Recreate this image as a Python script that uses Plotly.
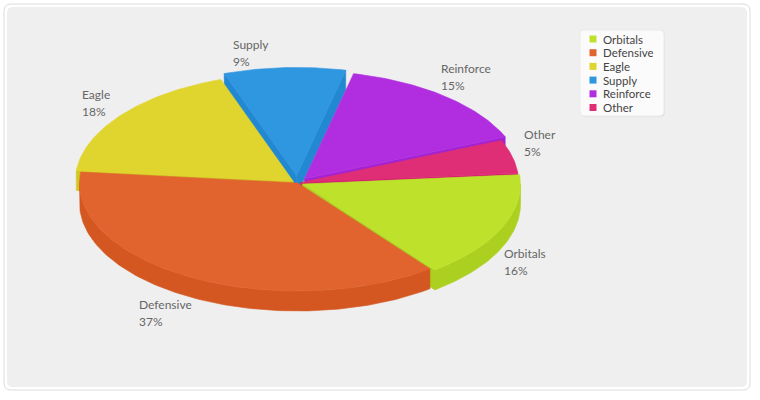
import numpy as np
import plotly.graph_objects as go

# ---- data ----
categories = ["Orbitals", "Defensive", "Eagle", "Supply", "Reinforce", "Other"]
values = [16, 37, 18, 9, 15, 5]

# ---- style ----
top_colors = ["#BEE22C", "#E1642F", "#E0D52E", "#2F96E0", "#B12EE0", "#E02E76"]
side_colors = ["#ACD020", "#D45722", "#D2C722", "#2388D2", "#A223D2", "#D0226A"]
pulls = [0.025, 0.0, 0.025, 0.07, 0.05, 0.015]
# label placement tweaks (pixels): left edge / vertical centre of the two-line label
label_nudge = [(-39, 20), (-31, 3), (-8, 10), (-52, 16), (-29, 6), (-34, -5)]

W, H = 760, 400
CX, CY = 297.5, 183
RX, RY = 218, 108
DEPTH = 20
START = -5.0
FONT = "Lato"

total = float(sum(values))


def pt(theta, c, h=0.0):
    t = np.radians(theta)
    return c[0] + RX * np.cos(t), c[1] + RY * np.sin(t) + h


def arc(t1, t2, c, h=0.0, n=None):
    if n is None:
        n = max(2, int(abs(t2 - t1)) + 2)
    ts = np.linspace(t1, t2, n)
    xs, ys = pt(ts, c, h)
    return list(xs), list(ys)


fig = go.Figure()

slices = []
a = START
for i, v in enumerate(values):
    span = v / total * 360.0
    t1, t2 = a, a + span
    mid = (t1 + t2) / 2
    mr = np.radians(mid)
    c = (CX + pulls[i] * RX * np.cos(mr), CY + pulls[i] * RY * np.sin(mr))
    slices.append(dict(i=i, t1=t1, t2=t2, mid=mid, c=c))
    a = t2


def poly(xs, ys, color):
    fig.add_trace(go.Scatter(x=xs, y=ys, mode="lines", fill="toself",
                             fillcolor=color, line=dict(width=0.6, color=color),
                             hoverinfo="skip", showlegend=False))


order = sorted(slices, key=lambda s: s["c"][1] + 0.5 * RY * np.sin(np.radians(s["mid"])))
for s in order:
    i, t1, t2, c = s["i"], s["t1"], s["t2"], s["c"]
    sc = side_colors[i]
    # radial faces facing the viewer
    for t, vis in ((t1, np.cos(np.radians(t1)) < 0), (t2, np.cos(np.radians(t2)) > 0)):
        if vis:
            px, py = pt(t, c)
            poly([c[0], px, px, c[0], c[0]], [c[1], py, py + DEPTH, c[1] + DEPTH, c[1]], sc)
    # outer wall (front half)
    for k in (-1, 0, 1):
        lo, hi = max(t1, 360 * k), min(t2, 360 * k + 180)
        if hi > lo:
            xt, yt = arc(lo, hi, c)
            xb, yb = arc(hi, lo, c, DEPTH)
            poly(xt + xb + [xt[0]], yt + yb + [yt[0]], sc)

for s in slices:
    i, t1, t2, c = s["i"], s["t1"], s["t2"], s["c"]
    xs, ys = arc(t1, t2, c)
    poly([c[0]] + xs + [c[0]], [c[1]] + ys + [c[1]], top_colors[i])

# slice labels
annotations = []
for s in slices:
    i = s["i"]
    mr = np.radians(s["mid"])
    lx = CX + RX * 1.22 * np.cos(mr) + label_nudge[i][0]
    ly = CY + RY * 1.35 * np.sin(mr) + label_nudge[i][1]
    pct = f"{values[i] / total * 100:.0f}%"
    for txt, dy in ((categories[i], -8.5), (pct, 8.5)):
        annotations.append(dict(x=lx, y=ly + dy, text=txt, showarrow=False,
                                xanchor="left", yanchor="middle", height=15,
                                font=dict(family=FONT, size=12, color="#666666")))

# legend
LX, LY0, LDY = 593, 39, 13.7
fig.add_trace(go.Scatter(
    x=[LX] * len(categories), y=[LY0 + LDY * k for k in range(len(categories))],
    mode="markers", marker=dict(symbol="square", size=7, color=top_colors,
                                line=dict(width=0)),
    hoverinfo="skip", showlegend=False))
for k, name in enumerate(categories):
    annotations.append(dict(x=601, y=LY0 + LDY * k, text=name, showarrow=False,
                            xanchor="left", yanchor="middle", height=13,
                            font=dict(family=FONT, size=11.5, color="#444444")))


def rrect(x0, y0, x1, y1, r):
    return (f"M{x0+r},{y0} L{x1-r},{y0} Q{x1},{y0} {x1},{y0+r} L{x1},{y1-r} "
            f"Q{x1},{y1} {x1-r},{y1} L{x0+r},{y1} Q{x0},{y1} {x0},{y1-r} "
            f"L{x0},{y0+r} Q{x0},{y0} {x0+r},{y0} Z")


shapes = [
    dict(type="path", path=rrect(4, 4, 750, 390, 7), fillcolor="#FFFFFF",
         line=dict(color="#DCDCDC", width=1), layer="below", xref="x", yref="y"),
    dict(type="path", path=rrect(7, 7, 747, 387, 6), fillcolor="#EFEFEF",
         line=dict(width=0), layer="below", xref="x", yref="y"),
    dict(type="path", path=rrect(581, 31, 665, 117, 5), fillcolor="#E2E2E2",
         line=dict(width=0), layer="below", xref="x", yref="y"),
    dict(type="path", path=rrect(580, 30, 664, 116, 5), fillcolor="#FBFBFB",
         line=dict(color="#EBEBEB", width=1), layer="below", xref="x", yref="y"),
]

fig.update_layout(
    width=W, height=H, margin=dict(l=0, r=0, t=0, b=0),
    paper_bgcolor="#FFFFFF", plot_bgcolor="rgba(0,0,0,0)",
    xaxis=dict(range=[0, W], visible=False, fixedrange=True),
    yaxis=dict(range=[H, 0], visible=False, fixedrange=True),
    shapes=shapes, annotations=annotations, showlegend=False,
)

fig.write_html("out.html")
